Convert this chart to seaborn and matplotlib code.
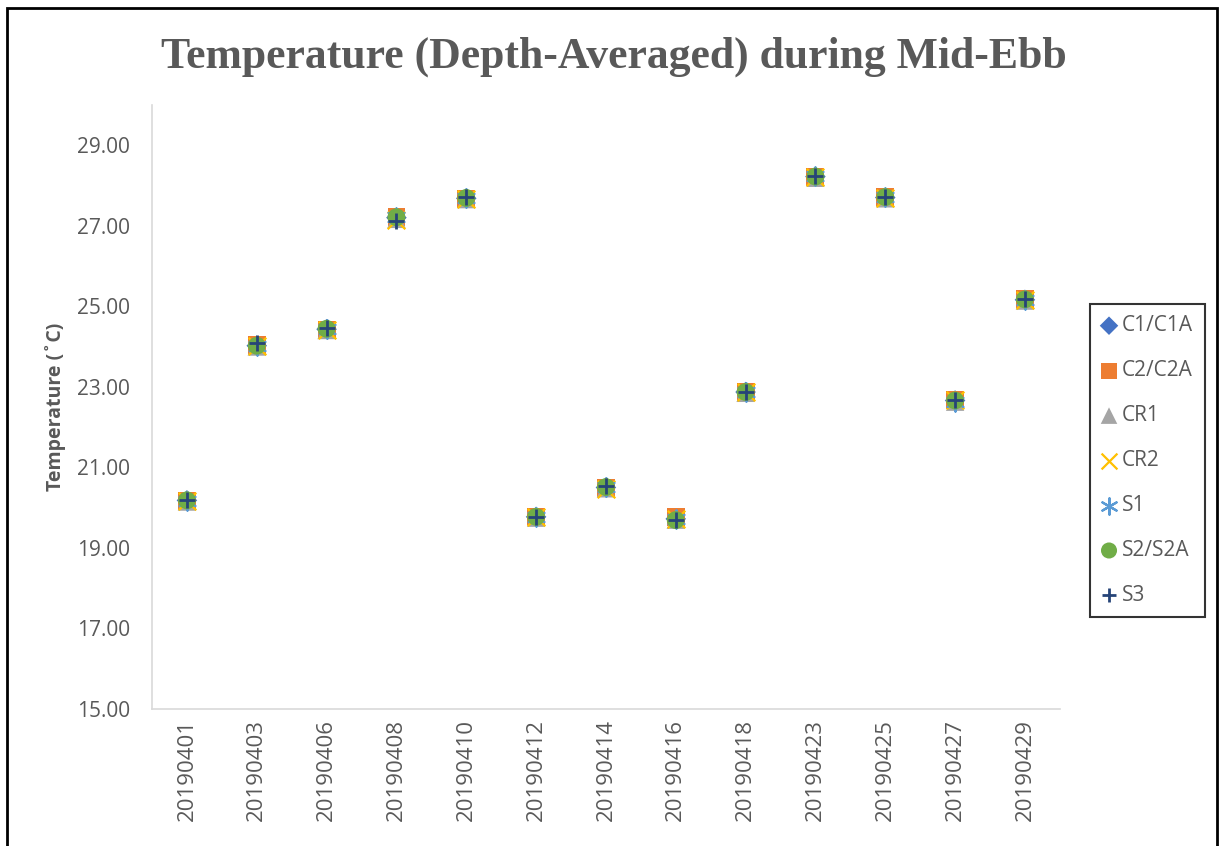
import matplotlib
matplotlib.use("Agg")
import matplotlib.pyplot as plt
import pandas as pd
import seaborn as sns
from matplotlib.patches import Rectangle

# Sampling dates (category axis)
dates = ["20190401", "20190403", "20190406", "20190408", "20190410", "20190412",
         "20190414", "20190416", "20190418", "20190423", "20190425", "20190427",
         "20190429"]

# Depth-averaged temperature (deg C) at each station
c1_c1a = [20.18, 24.02, 24.43, 27.20, 27.68, 19.77, 20.50, 19.72, 22.87, 28.22, 27.70, 22.66, 25.16]
c2_c2a = [20.17, 24.03, 24.42, 27.21, 27.67, 19.78, 20.49, 19.76, 22.88, 28.21, 27.71, 22.67, 25.17]
cr1 = [20.15, 24.00, 24.41, 27.17, 27.66, 19.75, 20.48, 19.70, 22.85, 28.19, 27.68, 22.63, 25.14]
cr2 = [20.16, 24.01, 24.42, 27.15, 27.67, 19.76, 20.47, 19.72, 22.87, 28.20, 27.69, 22.66, 25.15]
s1 = [20.17, 24.02, 24.44, 27.22, 27.70, 19.76, 20.52, 19.71, 22.86, 28.23, 27.71, 22.63, 25.16]
s2_s2a = [20.18, 24.02, 24.44, 27.21, 27.69, 19.77, 20.51, 19.69, 22.87, 28.22, 27.71, 22.66, 25.17]
s3 = [20.18, 24.09, 24.45, 27.12, 27.71, 19.77, 20.53, 19.70, 22.86, 28.23, 27.71, 22.66, 25.17]

stations = ["C1/C1A", "C2/C2A", "CR1", "CR2", "S1", "S2/S2A", "S3"]
values = [c1_c1a, c2_c2a, cr1, cr2, s1, s2_s2a, s3]

yticks = [15, 17, 19, 21, 23, 25, 27, 29]

styles = {
    "C1/C1A": dict(marker="D", color="#4472C4", s=110),
    "C2/C2A": dict(marker="s", color="#ED7D31", s=165),
    "CR1": dict(marker="^", color="#A5A5A5", s=175),
    "CR2": dict(marker="x", color="#FFC000", s=160, linewidths=1.6),
    "S1": dict(marker=(6, 2, 0), color="#5B9BD5", s=170, linewidths=1.6),
    "S2/S2A": dict(marker="o", color="#70AD47", s=165),
    "S3": dict(marker="+", color="#264478", s=120, linewidths=2.0),
}

frames = []
for name, vals in zip(stations, values):
    frames.append(pd.DataFrame({"date": dates, "temp": vals, "station": name}))
df = pd.concat(frames, ignore_index=True)

sns.set_style("white")
plt.rcParams["font.family"] = ["Open Sans", "DejaVu Sans"]

grey = "#595959"
fig = plt.figure(figsize=(12.21, 8.46), dpi=100)
ax = fig.add_axes([0.1245, 0.162, 0.7435, 0.714])

for name in stations:
    sub = df[df["station"] == name]
    st = dict(styles[name])
    if st["marker"] in ("x", "+") or isinstance(st["marker"], tuple):
        sns.scatterplot(data=sub, x="date", y="temp", ax=ax, label=name, **st)
    else:
        sns.scatterplot(data=sub, x="date", y="temp", ax=ax, label=name,
                        edgecolor="none", **st)

ax.set_xlim(-0.5, len(dates) - 0.5)
ax.set_ylim(15, 30)
ax.set_yticks(yticks)
ax.set_yticklabels([f"{v:.2f}" for v in yticks])
ax.tick_params(axis="both", length=0, colors=grey, labelsize=15)
ax.tick_params(axis="x", rotation=90, pad=7, labelsize=16)
ax.tick_params(axis="y", pad=16)
ax.set_xlabel("")
ax.set_ylabel("Temperature (˚C)", color=grey, fontsize=14, fontweight="bold", labelpad=8)
for side in ("top", "right"):
    ax.spines[side].set_visible(False)
for side in ("left", "bottom"):
    ax.spines[side].set_color("#D9D9D9")
    ax.spines[side].set_linewidth(1.2)

ax.get_legend().remove()
handles, labels = ax.get_legend_handles_labels()
leg = fig.legend(handles, labels, loc="upper left", bbox_to_anchor=(0.8925, 0.641),
                 frameon=True, fancybox=False, fontsize=15, labelspacing=1.15,
                 handlelength=0.75, handletextpad=0.25, borderpad=0.55,
                 borderaxespad=0.0, markerscale=0.9, labelcolor=grey)
leg.get_frame().set_edgecolor("black")
leg.get_frame().set_linewidth(1.5)

fig.suptitle("Temperature (Depth-Averaged) during Mid-Ebb", x=0.503, y=0.957,
             fontsize=31.5, fontweight="bold", color=grey, family="Liberation Serif")

# chart-area outline
fig.patches.append(Rectangle((0.006, -0.05), 0.991, 1.04, transform=fig.transFigure,
                             fill=False, edgecolor="black", linewidth=2.0))

fig.savefig("out.png", dpi=100)
